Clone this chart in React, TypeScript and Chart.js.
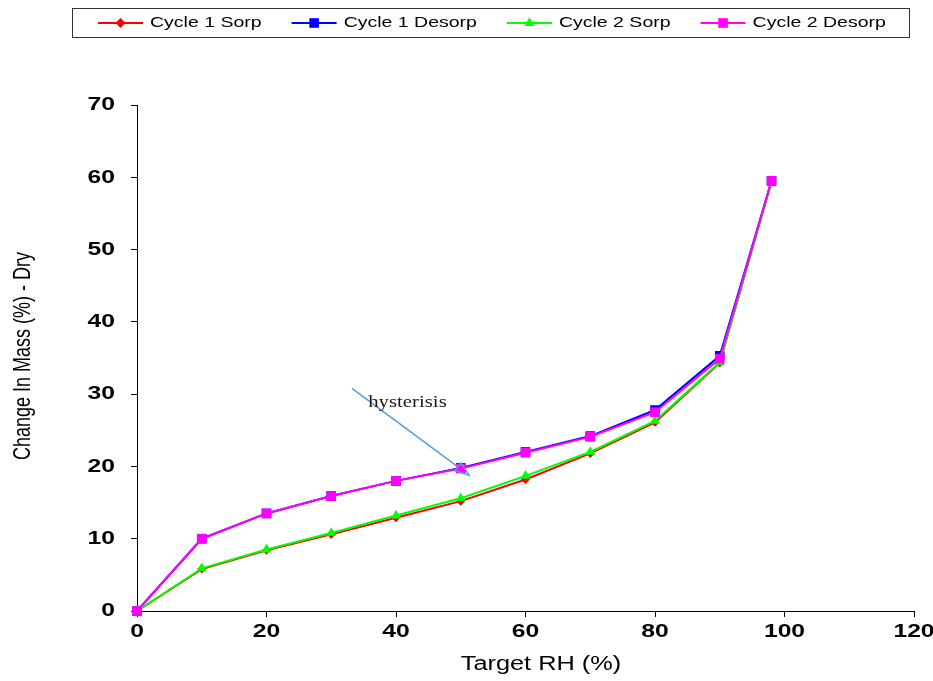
import { useEffect, useRef } from "react";
import { Chart, registerables } from "chart.js";

Chart.register(...registerables);

// Relative humidity steps (%) and mass change (%) relative to dry mass
const rhLevels = [0, 10, 20, 30, 40, 50, 60, 70, 80, 90, 98];
const cycle1Sorp = [0, 5.8, 8.4, 10.6, 12.9, 15.2, 18.2, 21.8, 26.1, 34.3, 59.5];
const cycle1Desorp = [0, 10.0, 13.5, 15.9, 18.0, 19.8, 22.0, 24.2, 27.8, 35.3, 59.5];
const cycle2Sorp = [0, 5.9, 8.5, 10.8, 13.2, 15.6, 18.7, 22.0, 26.3, 34.4, 59.5];
const cycle2Desorp = [0, 10.0, 13.5, 15.9, 18.0, 19.7, 21.9, 24.1, 27.5, 34.9, 59.5];

const seriesNames = ["Cycle 1 Sorp", "Cycle 1 Desorp", "Cycle 2 Sorp", "Cycle 2 Desorp"];
const seriesColors = ["#ff0000", "#0000ff", "#00ff00", "#ff00ff"];

const xTicks = [0, 20, 40, 60, 80, 100, 120];
const yTicks = [0, 10, 20, 30, 40, 50, 60, 70];

const xTitle = "Target RH (%)";
const yTitle = "Change In Mass (%) - Dry";

// Callout pointing at the gap between the sorption and desorption branches
const noteText = "hysterisis";
const noteAnchor = { x: 35.7, y: 28.8 };
const arrowFrom = { x: 33.2, y: 30.8 };
const arrowTo = { x: 51.3, y: 18.8 };

const SX = 1.3; // horizontal widening applied to all chart text

function stretchedText(
  ctx: CanvasRenderingContext2D,
  text: string,
  x: number,
  y: number,
  font: string,
  align: CanvasTextAlign,
  color: string,
  vertical = false
) {
  ctx.save();
  ctx.translate(x, y);
  if (vertical) {
    ctx.rotate(-Math.PI / 2);
    ctx.scale(1, SX);
  } else {
    ctx.scale(SX, 1);
  }
  ctx.font = font;
  ctx.fillStyle = color;
  ctx.textAlign = align;
  ctx.textBaseline = "middle";
  ctx.fillText(text, 0, 0);
  ctx.restore();
}

function textWidth(ctx: CanvasRenderingContext2D, text: string, font: string) {
  ctx.save();
  ctx.font = font;
  const w = ctx.measureText(text).width * SX;
  ctx.restore();
  return w;
}

function drawMarker(ctx: CanvasRenderingContext2D, style: string, x: number, y: number, r: number, color: string) {
  ctx.save();
  ctx.fillStyle = color;
  ctx.beginPath();
  if (style === "rect") {
    const s = r * Math.SQRT1_2;
    ctx.rect(x - s, y - s, 2 * s, 2 * s);
  } else if (style === "rectRot") {
    ctx.moveTo(x, y - r);
    ctx.lineTo(x + r, y);
    ctx.lineTo(x, y + r);
    ctx.lineTo(x - r, y);
    ctx.closePath();
  } else {
    const h = (r * Math.sqrt(3)) / 2;
    ctx.moveTo(x, y - r);
    ctx.lineTo(x + h, y + r / 2);
    ctx.lineTo(x - h, y + r / 2);
    ctx.closePath();
  }
  ctx.fill();
  ctx.restore();
}

const decorations = {
  id: "decorations",
  afterDraw(chart: any) {
    const ctx: CanvasRenderingContext2D = chart.ctx;
    const xs = chart.scales.x;
    const ys = chart.scales.y;
    const tickFont = "bold 19px 'Liberation Sans', Arial, sans-serif";

    // tick labels
    yTicks.forEach((v) => {
      stretchedText(ctx, String(v), 115, ys.getPixelForValue(v), tickFont, "right", "#000");
    });
    xTicks.forEach((v) => {
      stretchedText(ctx, String(v), xs.getPixelForValue(v), 632, tickFont, "center", "#000");
    });

    // axis titles
    stretchedText(ctx, xTitle, 541, 665, "19.5px 'Liberation Sans', Arial, sans-serif", "center", "#000");
    stretchedText(ctx, yTitle, 24, 356, "18px 'Liberation Sans', Arial, sans-serif", "center", "#000", true);

    // callout arrow
    const x1 = xs.getPixelForValue(arrowFrom.x);
    const y1 = ys.getPixelForValue(arrowFrom.y);
    const x2 = xs.getPixelForValue(arrowTo.x);
    const y2 = ys.getPixelForValue(arrowTo.y);
    const ang = Math.atan2(y2 - y1, x2 - x1);
    const headLen = 14;
    const headHalf = 5;
    const bx = x2 - Math.cos(ang) * headLen;
    const by = y2 - Math.sin(ang) * headLen;
    ctx.save();
    ctx.strokeStyle = "#5b9bd5";
    ctx.lineWidth = 1.5;
    ctx.beginPath();
    ctx.moveTo(x1, y1);
    ctx.lineTo(bx, by);
    ctx.stroke();
    ctx.beginPath();
    ctx.moveTo(x2, y2);
    ctx.lineTo(bx + Math.sin(ang) * headHalf, by - Math.cos(ang) * headHalf);
    ctx.lineTo(bx - Math.sin(ang) * headHalf, by + Math.cos(ang) * headHalf);
    ctx.closePath();
    ctx.stroke();
    ctx.restore();
    stretchedText(
      ctx,
      noteText,
      xs.getPixelForValue(noteAnchor.x),
      ys.getPixelForValue(noteAnchor.y),
      "16px 'Liberation Serif', 'Times New Roman', serif",
      "left",
      "#1a1a1a"
    );

    // legend box
    const legendFont = "15px 'Liberation Sans', Arial, sans-serif";
    ctx.save();
    ctx.strokeStyle = "#333";
    ctx.lineWidth = 1;
    ctx.strokeRect(72.5, 8.5, 837, 29);
    ctx.restore();
    let lx = 98;
    const ly = 23;
    chart.data.datasets.forEach((ds: any) => {
      ctx.save();
      ctx.strokeStyle = ds.borderColor;
      ctx.lineWidth = 2;
      ctx.beginPath();
      ctx.moveTo(lx, ly);
      ctx.lineTo(lx + 45, ly);
      ctx.stroke();
      ctx.restore();
      const legendR = ds.pointStyle === "rectRot" ? 5 : ds.pointRadius;
      drawMarker(ctx, ds.pointStyle, lx + 22.5, ly, legendR, ds.borderColor);
      const tx = lx + 52;
      stretchedText(ctx, ds.label, tx, ly, legendFont, "left", "#000");
      lx = tx + textWidth(ctx, ds.label, legendFont) + 30;
    });
  },
};

export default function App() {
  const canvasRef = useRef<HTMLCanvasElement | null>(null);

  useEffect(() => {
    if (!canvasRef.current) return;
    const series = [cycle1Sorp, cycle1Desorp, cycle2Sorp, cycle2Desorp];
    const styles = ["rectRot", "rect", "triangle", "rect"];
    const radii = [4.5, 6.8, 5.8, 6.8];
    const chart = new Chart(canvasRef.current, {
      type: "line",
      data: {
        datasets: series.map((vals, i) => ({
          label: seriesNames[i],
          data: rhLevels.map((x, j) => ({ x, y: vals[j] })),
          borderColor: seriesColors[i],
          backgroundColor: seriesColors[i],
          borderWidth: 2,
          pointStyle: styles[i],
          pointRadius: radii[i],
          pointBorderWidth: 0,
          pointBackgroundColor: seriesColors[i],
          tension: 0,
          clip: false as any,
          order: series.length - i,
        })),
      },
      options: {
        responsive: false,
        animation: false,
        devicePixelRatio: 1,
        layout: { padding: { left: 137, right: 19, top: 105, bottom: 70 } },
        plugins: { legend: { display: false }, tooltip: { enabled: false } },
        scales: {
          x: {
            type: "linear",
            min: 0,
            max: 120,
            afterBuildTicks: (s: any) => {
              s.ticks = xTicks.map((value) => ({ value }));
            },
            afterFit: (s: any) => {
              s.height = 0;
            },
            ticks: { display: false },
            grid: { drawOnChartArea: false, drawTicks: true, tickLength: 6, color: "#000", lineWidth: 1 },
            border: { display: true, color: "#000", width: 1 },
          },
          y: {
            type: "linear",
            min: 0,
            max: 70,
            afterBuildTicks: (s: any) => {
              s.ticks = yTicks.map((value) => ({ value }));
            },
            afterFit: (s: any) => {
              s.width = 0;
            },
            ticks: { display: false },
            grid: { drawOnChartArea: false, drawTicks: true, tickLength: 6, color: "#000", lineWidth: 1 },
            border: { display: true, color: "#000", width: 1 },
          },
        },
      },
      plugins: [decorations],
    });
    return () => chart.destroy();
  }, []);

  return (
    <div style={{ position: "fixed", left: 0, top: 0, width: 933, height: 681, background: "#fff" }}>
      <canvas ref={canvasRef} width={933} height={681} style={{ width: 933, height: 681 }} />
    </div>
  );
}
